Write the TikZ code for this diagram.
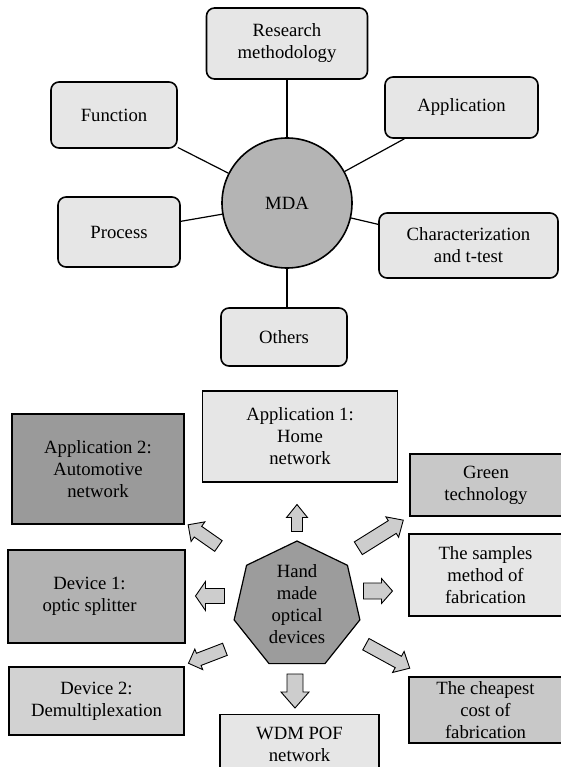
\documentclass[tikz,border=0pt]{standalone}
\usepackage{fontspec}
\setmainfont{Liberation Serif}
\usetikzlibrary{shapes.geometric}
\definecolor{lightg}{HTML}{E6E6E6}
\definecolor{mdag}{HTML}{B4B4B4}
\definecolor{darkg}{HTML}{9A9A9A}
\definecolor{devone}{HTML}{B2B2B2}
\definecolor{devtwo}{HTML}{D2D2D2}
\definecolor{midg}{HTML}{C8C8C8}
\definecolor{heptg}{HTML}{9C9C9C}
\definecolor{arrowg}{HTML}{CDCDCD}
\tikzset{
  rbox/.style={draw, line width=1.6pt, rounded corners=8pt, fill=lightg, align=center, inner sep=0pt},
  bbox/.style={draw, line width=1.3pt, align=center, inner sep=0pt},
  link/.style={line width=1.2pt},
  pics/barr/.style n args={4}{code={
    \draw[line width=0.9pt, fill=arrowg, line join=miter]
      ({-#1/2},{-#3/2}) -- ({#1/2-#4},{-#3/2}) -- ({#1/2-#4},{-#2/2}) -- ({#1/2},0)
      -- ({#1/2-#4},{#2/2}) -- ({#1/2-#4},{#3/2}) -- ({-#1/2},{#3/2}) -- cycle;}}
}
\begin{document}
\begin{tikzpicture}[x=1pt,y=-1pt,font=\fontsize{18.7}{22}\selectfont]
\useasboundingbox (0,0) rectangle (560,767);
% ---------- upper diagram ----------
\node[draw, circle, line width=1.6pt, fill=mdag, minimum size=130pt, inner sep=0pt] (mda) at (287,203) {MDA};
\node[rbox, minimum width=161pt, minimum height=71pt] (res) at (287,43.5) {Research\\methodology};
\node[rbox, minimum width=126pt, minimum height=66pt] (fun) at (114,115) {Function};
\node[rbox, minimum width=153pt, minimum height=61pt] (app) at (461.5,107.5) {Application};
\node[rbox, minimum width=122pt, minimum height=70pt] (pro) at (119,232) {Process};
\node[rbox, minimum width=179pt, minimum height=65pt] (cha) at (468.5,245.5) {Characterization\\and t-test};
\node[rbox, minimum width=126pt, minimum height=58pt] (oth) at (284,337) {Others};
\draw[link] (res) -- (mda);
\draw[link] (fun) -- (mda);
\draw[link] (app) -- (mda);
\draw[link] (pro) -- (mda);
\draw[link] (cha) -- (mda);
\draw[link] (mda.south) -- (mda.south |- oth.north);
% ---------- lower diagram ----------
\node[bbox, fill=lightg, minimum width=195pt, minimum height=91pt] (appone) at (300,436.5) {Application 1:\\Home\\network};
\node[bbox, fill=darkg, minimum width=172pt, minimum height=110pt] (apptwo) at (98,469) {Application 2:\\Automotive\\network};
\node[bbox, fill=midg, minimum width=152pt, minimum height=62pt] (green) at (486,485) {Green\\technology};
\node[bbox, fill=lightg, minimum width=153pt, minimum height=82pt] (samp) at (485.5,575) {The samples\\method of\\fabrication};
\node[bbox, fill=devone, minimum width=177pt, minimum height=93pt] (devo) at (96.5,596.5) {Device 1:\hspace*{14pt}\\optic splitter\hspace*{14pt}};
\node[bbox, fill=devtwo, minimum width=175pt, minimum height=68pt] (devt) at (96.5,701) {Device 2:\\Demultiplexation};
\node[bbox, fill=midg, minimum width=153pt, minimum height=66pt] (cheap) at (485.5,710) {The cheapest\\cost of\\fabrication};
\node[bbox, fill=lightg, minimum width=159pt, minimum height=60pt, anchor=north] (wdm) at (299.5,714) {WDM POF\\network};
\node[draw, regular polygon, regular polygon sides=7, minimum size=129pt, inner sep=0pt,
      fill=heptg, line width=1.2pt] (hub) at (297,605.5) {};
\node[align=center, inner sep=0pt] (hubtext) at (297,604) {Hand\\made\\optical\\devices};
% block arrows
\pic[rotate=90] at (297,518) {barr={27}{21}{11}{13}};
\pic[rotate=180] at (210,596) {barr={29}{29}{15}{10}};
\pic at (378,591) {barr={29}{25}{16}{11}};
\pic[rotate=-90] at (295,691) {barr={34}{28}{16}{16}};
\pic[rotate=145] at (203.3,535.4) {barr={37}{24}{13}{12}};
\pic[rotate=201] at (206.7,656.3) {barr={39}{22}{13}{11}};
\pic[rotate=32] at (380.8,534.2) {barr={53}{24}{15}{13}};
\pic[rotate=-28.7] at (387.8,656.2) {barr={50}{24}{13}{13}};
\end{tikzpicture}
\end{document}
